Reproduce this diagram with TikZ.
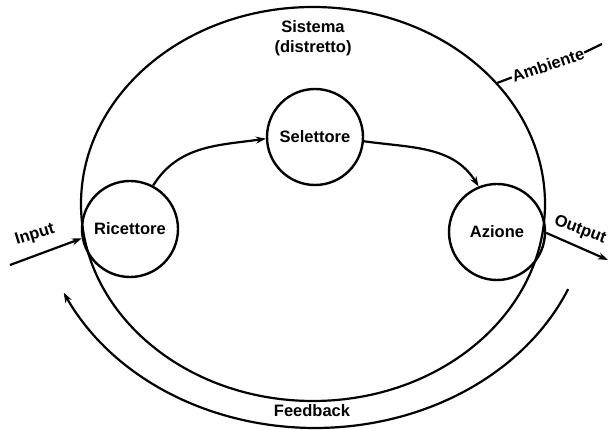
\documentclass[tikz,border=0pt]{standalone}
\usepackage{fontspec}
\setmainfont{Liberation Sans}
\usetikzlibrary{arrows.meta,shapes.geometric}
\begin{document}
\begin{tikzpicture}[x=1pt,y=1pt,
  every node/.style={font=\fontsize{16.5}{19}\selectfont\bfseries},
  proc/.style={circle,draw,line width=2.4pt,minimum size=96pt,inner sep=0pt},
  conn/.style={line width=2.2pt,-{Stealth[length=10pt,width=7pt]}},
  lbl/.style={inner sep=1pt}]
\useasboundingbox (0,0) rectangle (610,430);
% system boundary
\node[ellipse,draw,line width=2.2pt,minimum width=464pt,minimum height=394pt,inner sep=0pt] (sys) at (313,226) {};
\node[lbl] (sist) at (313,403) {Sistema};
\node[lbl] (dist) at (313,382) {(distretto)};
% processes
\node[proc] (r) at (130,201) {Ricettore};
\node[proc] (s) at (315,293) {Selettore};
\node[proc] (a) at (497,198) {Azione};
% flows
\draw[conn] (r.62) to[out=58,in=188] (s.182);
\draw[conn] (s.-5) to[out=-8,in=122] (a.112);
% input / output
\coordinate (in0) at (10,165);
\coordinate (out1) at (608,170);
\draw[conn] (in0) -- (r.191);
\draw[conn] (a.-1) -- (out1);
\node[lbl,rotate=17] (inl) at (35,195) {Input};
\node[lbl,rotate=-21] (outl) at (580,200) {Output};
% environment label
\coordinate (amb0) at (497,347);
\coordinate (amb1) at (602,386);
\node[lbl,rotate=19,inner sep=0.5pt] (amb) at (548,365) {Ambiente};
\draw[line width=2.2pt] (amb0) -- (amb.west);
\draw[line width=2.2pt] (amb.east) -- (amb1);
% feedback
\coordinate (fb0) at (568,141);
\coordinate (fb1) at (62,147);
\draw[line width=2.2pt,-{Stealth[length=10pt,width=7pt]}] plot[domain=23:156,samples=80,smooth] ({315+275*cos(\x)},{230-228*sin(\x)});
\node[lbl] (fb) at (312,19) {Feedback};
\end{tikzpicture}
\end{document}
